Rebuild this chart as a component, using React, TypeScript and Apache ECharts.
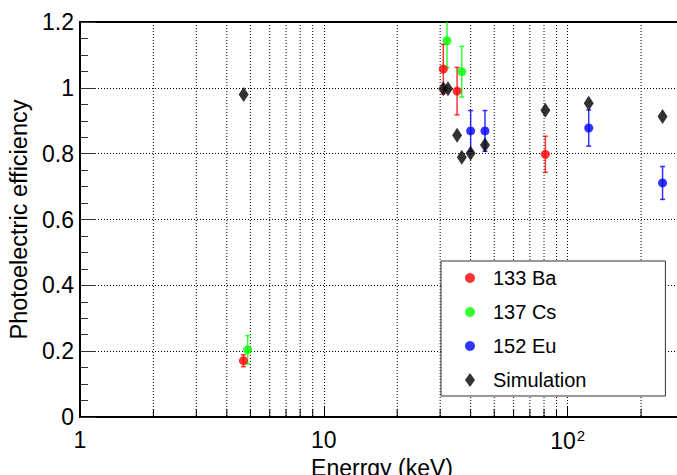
import React, { useEffect, useRef } from "react";
import * as echarts from "echarts";

// ---- data ----
const baEnergy = [4.68, 30.9, 35.2, 81.0];
const baEff = [0.171, 1.057, 0.99, 0.798];
const baErr = [0.018, 0.075, 0.072, 0.055];

const csEnergy = [4.87, 32.0, 36.8];
const csEff = [0.204, 1.143, 1.049];
const csErr = [0.043, 0.082, 0.077];

const euEnergy = [40.0, 45.8, 122, 245];
const euEff = [0.869, 0.869, 0.878, 0.711];
const euErr = [0.062, 0.062, 0.055, 0.05];

const simEnergy = [4.69, 30.9, 32.3, 35.2, 36.8, 40.0, 45.8, 81.0, 122, 245];
const simEff = [0.98, 0.997, 0.997, 0.856, 0.789, 0.801, 0.826, 0.932, 0.953, 0.913];

const xMinorGrid = [2, 3, 4, 5, 6, 7, 8, 9, 20, 30, 40, 50, 60, 70, 80, 90, 200];
const xMajorLabels = [1, 10, 100];
const legendNames = ["133 Ba", "137 Cs", "152 Eu", "Simulation"];

const FONT = "'Liberation Sans', Arial, Helvetica, sans-serif";
const RED = "#ff0000";
const GREEN = "#00ff00";
const BLUE = "#0000ff";
const Y_MAX = 1.2;

const zip = (a: number[], b: number[]) => a.map((v, i) => [v, b[i]]);
const zip3 = (a: number[], b: number[], c: number[]) => a.map((v, i) => [v, b[i], c[i]]);

function errorSeries(name: string, color: string, data: number[][]) {
  return {
    name,
    type: "custom",
    z: 3,
    encode: { x: 0, y: 1 },
    data,
    renderItem: (params: any, api: any) => {
      const x = api.value(0);
      const y = api.value(1);
      const e = api.value(2);
      const hiV = Math.min(y + e, Y_MAX);
      const loV = Math.max(y - e, 0);
      const hi = api.coord([x, hiV]);
      const lo = api.coord([x, loV]);
      const style = { stroke: color, lineWidth: 1.5, opacity: 0.8 };
      const children: any[] = [
        { type: "line", shape: { x1: hi[0], y1: hi[1], x2: lo[0], y2: lo[1] }, style },
        { type: "line", shape: { x1: lo[0] - 2.5, y1: lo[1], x2: lo[0] + 2.5, y2: lo[1] }, style },
      ];
      if (hiV === y + e) {
        children.push({ type: "line", shape: { x1: hi[0] - 2.5, y1: hi[1], x2: hi[0] + 2.5, y2: hi[1] }, style });
      }
      return { type: "group", children };
    },
    silent: true,
  };
}

export default function App() {
  const ref = useRef<HTMLDivElement>(null);

  useEffect(() => {
    if (!ref.current) return;
    const chart = echarts.init(ref.current, undefined, { renderer: "svg" });

    const isNear = (v: number, t: number) => Math.abs(v - t) < 1e-6 * t;

    const option: any = {
      animation: false,
      backgroundColor: "#fff",
      textStyle: { fontFamily: FONT },
      grid: {
        left: 80,
        top: 22,
        right: -7,
        bottom: 58,
        containLabel: false,
        outerBoundsMode: "none",
        show: true,
        borderColor: "#000",
        borderWidth: 2,
        backgroundColor: "transparent",
      },
      legend: {
        orient: "vertical",
        left: 441,
        top: 261,
        data: [
          { name: legendNames[0], icon: "circle" },
          { name: legendNames[1], icon: "circle" },
          { name: legendNames[2], icon: "circle" },
          { name: legendNames[3], icon: "path://M5,0L10,7L5,14L0,7Z" },
        ],
        itemWidth: 10,
        itemHeight: 14,
        itemGap: 14,
        padding: [7, 79, 6, 24],
        backgroundColor: "#fff",
        borderColor: "#333",
        borderWidth: 1,
        borderRadius: 0,
        selectedMode: false,
        textStyle: {
          fontFamily: FONT,
          fontSize: 20,
          lineHeight: 20,
          color: "#000",
          padding: [0, 0, 0, 13],
        },
      },
      xAxis: {
        type: "log",
        logBase: 10,
        min: 1,
        max: 300,
        name: "Enerrgy (keV)",
        nameLocation: "middle",
        nameGap: 32,
        nameTextStyle: { fontFamily: FONT, fontSize: 23, color: "#000" },
        axisLine: { show: true, onZero: false, lineStyle: { color: "#000", width: 2 } },
        axisTick: { show: true, inside: true, length: 11, lineStyle: { color: "#000", width: 1 } },
        axisLabel: {
          show: true,
          margin: 11,
          color: "#000",
          fontFamily: FONT,
          fontSize: 23,
          showMaxLabel: false,
          formatter: (v: number) => {
            if (isNear(v, xMajorLabels[0])) return "{a|1}";
            if (isNear(v, xMajorLabels[1])) return "{a|10}";
            if (isNear(v, xMajorLabels[2])) return "{a|10}{s|2}";
            return "";
          },
          rich: {
            a: { fontFamily: FONT, fontSize: 23, color: "#000" },
            s: { fontFamily: FONT, fontSize: 15, color: "#000", verticalAlign: "top", padding: [0, 0, 10, 1] },
          },
        },
        splitLine: { show: true, lineStyle: { color: "#000", width: 1, type: [1, 2] } },
      },
      yAxis: {
        type: "value",
        min: 0,
        max: Y_MAX,
        interval: 0.2,
        name: "Photoelectric efficiency",
        nameLocation: "middle",
        nameGap: 45,
        nameTextStyle: { fontFamily: FONT, fontSize: 23.5, color: "#000" },
        axisLine: { show: true, lineStyle: { color: "#000", width: 2 } },
        axisTick: { show: true, inside: true, length: 16, lineStyle: { color: "#333", width: 1 } },
        minorTick: { show: true, splitNumber: 4, length: 8, lineStyle: { color: "#333", width: 1 } },
        axisLabel: {
          margin: 6,
          color: "#000",
          fontFamily: FONT,
          fontSize: 23,
          formatter: (v: number) => String(Math.round(v * 10) / 10),
        },
        splitLine: { show: true, lineStyle: { color: "#000", width: 1, type: [1, 2] } },
      },
      series: [
        {
          name: "minor-grid",
          type: "custom",
          z: 1,
          silent: true,
          encode: { x: 0, y: 1 },
          data: xMinorGrid.map((v) => [v, 0]),
          renderItem: (params: any, api: any) => {
            const x = api.value(0);
            const top = api.coord([x, Y_MAX]);
            const bot = api.coord([x, 0]);
            return {
              type: "group",
              children: [
                {
                  type: "line",
                  shape: { x1: top[0], y1: top[1], x2: bot[0], y2: bot[1] },
                  style: { stroke: "#000", lineWidth: 1, lineDash: [1, 2] },
                },
                {
                  type: "line",
                  shape: { x1: bot[0], y1: bot[1], x2: bot[0], y2: bot[1] - 8 },
                  style: { stroke: "#000", lineWidth: 1 },
                },
              ],
            };
          },
        },
        errorSeries("133 Ba err", RED, zip3(baEnergy, baEff, baErr)),
        errorSeries("137 Cs err", GREEN, zip3(csEnergy, csEff, csErr)),
        errorSeries("152 Eu err", BLUE, zip3(euEnergy, euEff, euErr)),
        {
          name: legendNames[0],
          type: "scatter",
          z: 5,
          symbol: "circle",
          symbolSize: 9,
          itemStyle: { color: RED },
          data: zip(baEnergy, baEff),
        },
        {
          name: legendNames[1],
          type: "scatter",
          z: 5,
          symbol: "circle",
          symbolSize: 9,
          itemStyle: { color: GREEN },
          data: zip(csEnergy, csEff),
        },
        {
          name: legendNames[2],
          type: "scatter",
          z: 5,
          symbol: "circle",
          symbolSize: 9,
          itemStyle: { color: BLUE },
          data: zip(euEnergy, euEff),
        },
        {
          name: legendNames[3],
          type: "scatter",
          z: 6,
          symbol: "diamond",
          symbolSize: [10, 15],
          itemStyle: { color: "#000" },
          data: zip(simEnergy, simEff),
        },
      ],
    };

    chart.setOption(option);
    return () => chart.dispose();
  }, []);

  return (
    <div
      ref={ref}
      style={{ position: "fixed", left: 0, top: 0, width: 677, height: 475, background: "#fff" }}
    />
  );
}
